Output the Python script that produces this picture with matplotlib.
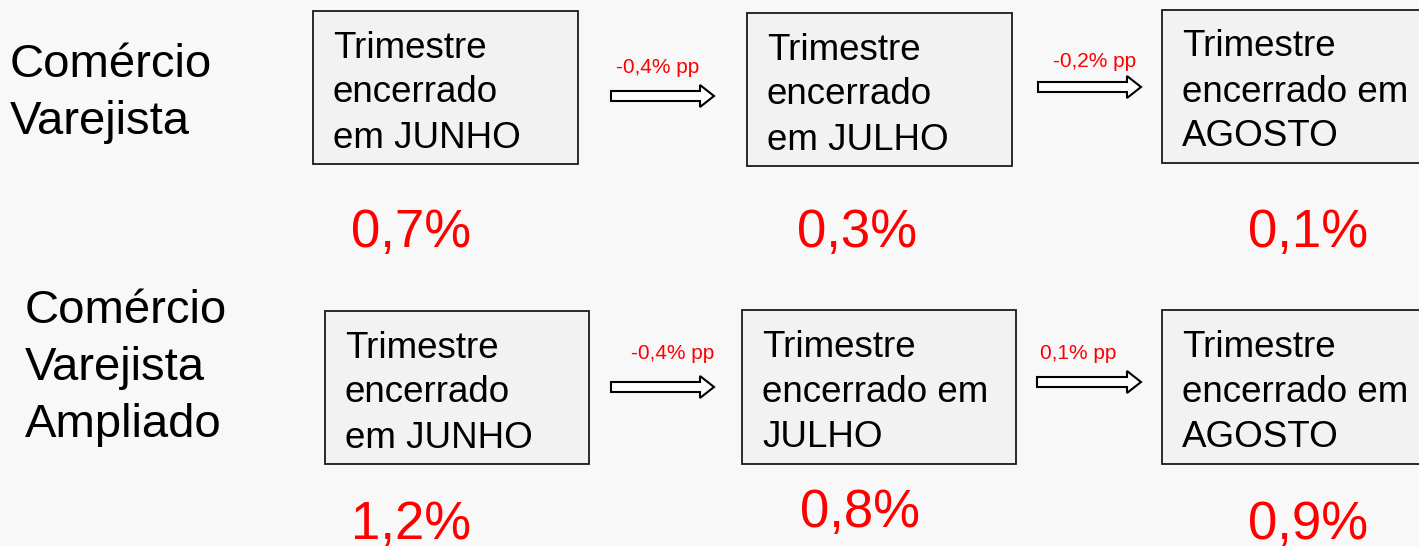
import matplotlib.pyplot as plt
from matplotlib.patches import Rectangle, FancyArrow

plt.rcParams['font.family'] = ['Liberation Sans', 'DejaVu Sans']

# data
row_labels = [['Comércio', 'Varejista'], ['Comércio', 'Varejista', 'Ampliado']]
box_texts = [
    [['Trimestre', 'encerrado', 'em JUNHO'],
     ['Trimestre', 'encerrado', 'em JULHO'],
     ['Trimestre', 'encerrado em', 'AGOSTO']],
    [['Trimestre', 'encerrado', 'em JUNHO'],
     ['Trimestre', 'encerrado em', 'JULHO'],
     ['Trimestre', 'encerrado em', 'AGOSTO']],
]
values = [['0,7%', '0,3%', '0,1%'], ['1,2%', '0,8%', '0,9%']]
deltas = [['-0,4% pp', '-0,2% pp'], ['-0,4% pp', '0,1% pp']]

# layout in pixel coordinates (x0, y0, x1, y1)
boxes = [
    [(313, 11, 578, 164), (747, 13, 1012, 166), (1162, 10, 1425, 163)],
    [(325, 311, 589, 464), (742, 310, 1016, 464), (1162, 310, 1425, 464)],
]
label_pos = [(10, 77), (25, 323)]   # x, first baseline
value_pos = [[(411, 247), (857, 247), (1308, 247)], [(411, 539), (860, 527), (1308, 539)]]
arrows = [[(611, 96, 103), (1038, 87, 103)], [(611, 387, 103), (1037, 382, 104)]]
delta_pos = [[(658, 73), (1095, 67)], [(673, 359), (1078, 359)]]

fig = plt.figure(figsize=(14.19, 5.46), dpi=100)
fig.patch.set_facecolor('#f8f8f8')
ax = fig.add_axes([0, 0, 1, 1])
ax.set_xlim(0, 1419)
ax.set_ylim(546, 0)
ax.axis('off')

for r in range(2):
    lx, ly = label_pos[r]
    for k, line in enumerate(row_labels[r]):
        ax.text(lx, ly + 57 * k, line, fontsize=34, ha='left', va='baseline', color='black')
    for i in range(3):
        x0, y0, x1, y1 = boxes[r][i]
        ax.add_patch(Rectangle((x0, y0), x1 - x0, y1 - y0, facecolor='#f2f2f2',
                               edgecolor='#1a1a1a', linewidth=1.3))
        base = (y0 + y1) / 2 - 30
        for k, line in enumerate(box_texts[r][i]):
            ax.text(x0 + 20, base + 45 * k, line, fontsize=26.5,
                    ha='left', va='baseline', color='black')
        vx, vy = value_pos[r][i]
        ax.text(vx, vy, values[r][i], fontsize=38, color='#ff0000',
                ha='center', va='baseline')
    for j in range(2):
        ax_x, ax_y, ln = arrows[r][j]
        ax.add_patch(FancyArrow(ax_x, ax_y, ln, 0, width=10, head_width=22,
                                head_length=14, length_includes_head=True,
                                facecolor='white', edgecolor='black', linewidth=1.5))
        dx, dy = delta_pos[r][j]
        ax.text(dx, dy, deltas[r][j], fontsize=15, color='#ff0000',
                ha='center', va='baseline')

fig.savefig('out.png', dpi=100, facecolor=fig.get_facecolor())
